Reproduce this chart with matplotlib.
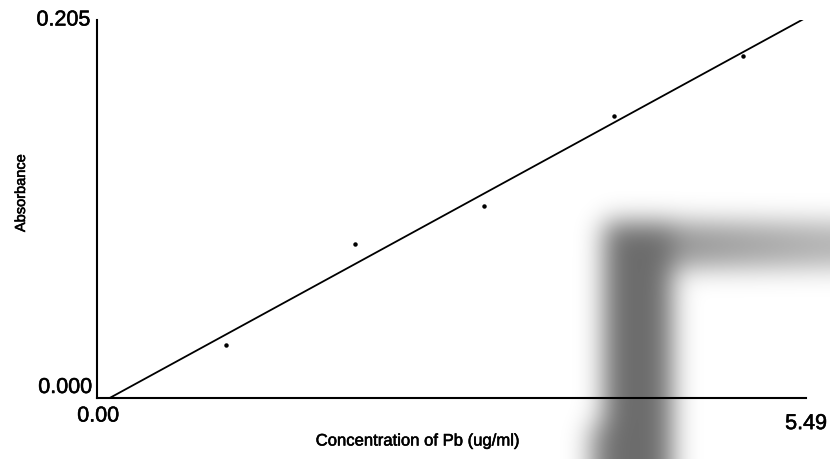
import numpy as np
import matplotlib.pyplot as plt
import matplotlib.patheffects as pe

plt.rcParams['font.family'] = ['Liberation Sans', 'DejaVu Sans']

# Calibration standards
conc = [1.0, 2.0, 3.0, 4.0, 5.0]
absorbance = [0.029, 0.0835, 0.104, 0.153, 0.1855]
x_range = [0.00, 5.49]
y_range = [0.000, 0.205]

slope, intercept = np.polyfit(conc, absorbance, 1)
xfit = np.linspace(x_range[0], x_range[1], 200)
yfit = slope * xfit + intercept

W, H = 830, 459
fig = plt.figure(figsize=(W / 100, H / 100), dpi=100)
ax = fig.add_axes([97 / W, 1 - 398 / H, 709 / W, 378 / H])
ax.patch.set_visible(False)

ax.plot(xfit, yfit, color='black', lw=1.3)
ax.plot(conc, absorbance, 'o', color='black', ms=2.2)

ax.set_xlim(x_range)
ax.set_ylim(y_range)
for s in ['top', 'right']:
    ax.spines[s].set_visible(False)
for s in ['left', 'bottom']:
    ax.spines[s].set_linewidth(1.5)
ax.set_xticks([])
ax.set_yticks([])

# scanned print looks a bit heavier than plain text
ink = [pe.withStroke(linewidth=0.4, foreground='black')]

# end labels only, like the instrument printout
fs = 15.5
ax.text(-0.009, 1.0, f"{y_range[1]:.3f}", transform=ax.transAxes, ha='right', va='center', fontsize=fs, path_effects=ink)
ax.text(-0.006, 0.0, f"{y_range[0]:.3f}", transform=ax.transAxes, ha='right', va='bottom', fontsize=fs, path_effects=ink)
ax.text(0.002, -0.02, f"{x_range[0]:.2f}", transform=ax.transAxes, ha='center', va='top', fontsize=fs, path_effects=ink)
ax.text(1.0, -0.04, f"{x_range[1]:.2f}", transform=ax.transAxes, ha='center', va='top', fontsize=fs, path_effects=ink)

fig.text(418 / W, 1 - 441 / H, "Concentration of Pb (ug/ml)", ha='center', va='center', fontsize=12, path_effects=ink)
fig.text(21 / W, 1 - 193 / H, "Absorbance", rotation=90, ha='center', va='center', fontsize=10.5, path_effects=ink)

# scanner shadow in the lower right corner
yy, xx = np.mgrid[0:H, 0:W]
shade = np.zeros((H, W))
shade[(xx >= 604) & (xx < 672) & (yy >= 222)] = 0.58
shade[(xx >= 590) & (xx < 604) & (yy >= 425)] = 0.45
band = (xx >= 672) & (yy >= 222) & (yy < 268)
shade[band] = (0.42 - 0.12 * (xx - 672) / (W - 672))[band]
k = np.exp(-0.5 * (np.arange(-40, 41) / 13.0) ** 2)
k /= k.sum()
shade = np.apply_along_axis(lambda r: np.convolve(r, k, mode='same'), 1, np.pad(shade, 40, mode='edge'))
shade = np.apply_along_axis(lambda c: np.convolve(c, k, mode='same'), 0, shade)[40:-40, 40:-40]
img = np.zeros((H, W, 4))
img[..., 3] = shade
fig.figimage(img, xo=0, yo=0, origin='upper', zorder=5)

fig.savefig('out.png', dpi=100)
